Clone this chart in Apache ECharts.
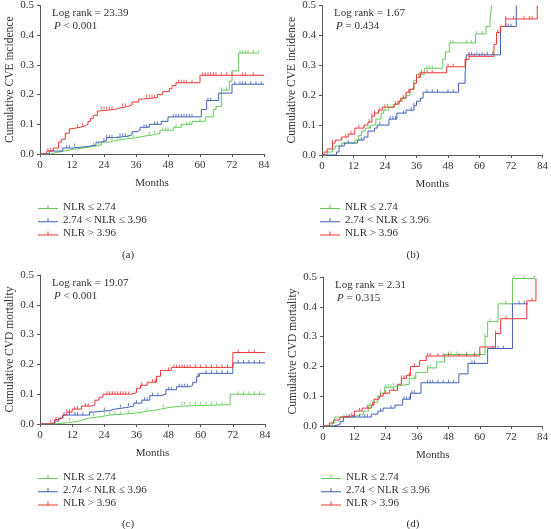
<!DOCTYPE html>
<html><head><meta charset="utf-8">
<script src="https://cdn.jsdelivr.net/npm/echarts@6/dist/echarts.min.js"></script>
<style>html,body{margin:0;padding:0;background:#fff}#c{width:551px;height:529px}</style>
</head><body><div id="c"></div>
<script>
// ---------- data ----------
const groupNames = ['NLR ≤ 2.74', '2.74 < NLR ≤ 3.96', 'NLR > 3.96'];
const xTickStep = 12;
const monthsMax = 84;
const yMax = 0.5;

// Panel (a): cumulative CVE incidence
const aGreen = [[0,0],[4,0.005],[6,0.01],[9,0.015],[12,0.02],[16,0.025],[20,0.03],[23,0.04],[26,0.045],[28,0.05],[32,0.055],[36,0.06],[39,0.065],[43,0.07],[45,0.08],[50,0.09],[53,0.1],[57,0.11],[62,0.125],[65,0.15],[66,0.16],[68,0.215],[71,0.245],[72,0.28],[74.5,0.34],[82,0.34]];
const aBlue = [[0,0],[3.5,0.01],[8.5,0.02],[12,0.025],[17.5,0.03],[21,0.04],[23,0.045],[25,0.055],[28,0.06],[33,0.065],[34.5,0.075],[36.5,0.08],[37.5,0.09],[41,0.1],[45.5,0.11],[48,0.125],[60.5,0.15],[62.5,0.18],[67,0.205],[72,0.235],[84,0.235]];
const aRed = [[0,0],[2.5,0.01],[5,0.02],[7,0.04],[8,0.05],[9.5,0.07],[11,0.085],[12,0.09],[15,0.095],[17,0.1],[18,0.11],[19,0.12],[20,0.13],[21.5,0.145],[22.5,0.15],[28,0.155],[30,0.16],[33,0.165],[34.5,0.175],[37,0.185],[38.5,0.19],[44,0.2],[46,0.21],[48.5,0.22],[49.5,0.23],[51,0.24],[60,0.265],[84,0.265]];
const aGreenCens = [20,22,27,29,30,33,35,41,43,46,47,48,51,55,56,60,68,70,75,76,77,78,80,82];
const aBlueCens = [10,11,13,24,25,26,27,30,31,32,39,40,43,44,50,51,52,53,54,55,56,57,63,64,73,75,76,77,79,81,83];
const aRedCens = [3,4,14,16,23,24,25,26,27,31,32,40,41,42,43,52,53,54,55,57,61,62,63,64,65,66,68,70,72,76,77,80];

// Panel (b): cumulative CVE incidence
const bGreen = [[0,0],[2,0.01],[4,0.02],[5,0.03],[7.5,0.04],[12.5,0.05],[14,0.065],[15,0.08],[16.5,0.09],[18.5,0.1],[20.5,0.12],[22.5,0.14],[23.5,0.15],[25.5,0.16],[27.5,0.17],[29.5,0.18],[30.5,0.19],[32,0.2],[33.5,0.22],[35,0.25],[36,0.27],[39,0.29],[46,0.32],[47,0.345],[48.5,0.375],[58.5,0.405],[62.5,0.43],[64,0.45],[64.6,0.5]];
const bBlue = [[0,0],[5.5,0.01],[6.5,0.03],[8.5,0.04],[13.5,0.05],[16,0.06],[17.5,0.08],[20,0.09],[21,0.1],[25.5,0.12],[28.5,0.14],[32,0.15],[35,0.165],[36,0.18],[37.5,0.19],[38.5,0.21],[52,0.24],[54.5,0.27],[55,0.335],[68,0.43],[74,0.5]];
const bRed = [[0,0],[0.8,0.01],[2,0.02],[4,0.04],[5,0.05],[7.5,0.06],[10,0.07],[12.5,0.09],[16,0.1],[17.5,0.11],[19,0.13],[20,0.14],[21.5,0.15],[23,0.16],[27.5,0.17],[29,0.18],[30,0.19],[32,0.21],[33.5,0.22],[35,0.24],[36,0.26],[37.5,0.275],[47.5,0.295],[54.5,0.32],[56,0.33],[65.5,0.37],[66.5,0.41],[68,0.43],[70,0.455],[82,0.5]];
const bGreenCens = [18,24,27,29,30,31,37,38,40,41,42,49,50,55,57,59,61];
const bBlueCens = [10,15,22,26,27,28,31,34,35,40,42,44,48,50,56,57,59,61,63,65,70,71,72];
const bRedCens = [4,9,11,14,18,19,20,22,24,25,28,31,33,36,37,38,40,42,48,50,56,58,60,62,67,70,73,77,79,80];

// Panel (c): cumulative CVD mortality
const cGreen = [[0,0],[5,0.005],[11,0.01],[15,0.015],[16,0.02],[18.5,0.025],[23,0.03],[26,0.033],[31,0.036],[35,0.04],[38,0.045],[42,0.05],[45,0.056],[48.5,0.06],[53,0.065],[71,0.1],[84,0.1]];
const cBlue = [[0,0],[5.5,0.01],[7,0.02],[8.5,0.03],[18.5,0.04],[20,0.045],[26,0.05],[28,0.055],[32,0.06],[35,0.07],[38,0.08],[41,0.095],[45,0.1],[47,0.115],[51,0.125],[56,0.13],[57,0.14],[58.5,0.16],[59.5,0.17],[72,0.205],[84,0.205]];
const cRed = [[0,0],[3.5,0.005],[5.5,0.015],[7,0.02],[8.5,0.03],[10,0.04],[12,0.05],[15.5,0.06],[19,0.065],[20.5,0.08],[22,0.09],[23.5,0.1],[34,0.105],[36,0.12],[37.5,0.13],[40,0.14],[43.5,0.16],[45,0.18],[49,0.19],[72,0.24],[84,0.24]];
const cGreenCens = [11,20,24,26,28,30,33,40,46,53,54,56,58,60,62,64,66,68,74,76,78,80,82];
const cBlueCens = [9,11,13,14,16,24,30,33,36,39,40,42,44,48,49,52,53,54,55,59,62,64,66,68,70,74,76,78,80,82];
const cRedCens = [4,6,10,11,13,14,17,18,25,26,27,28,29,30,31,32,33,38,42,43,48,50,51,52,53,54,55,56,58,60,62,64,66,68,70,74,78,80];

// Panel (d): cumulative CVD mortality
const dGreen = [[0,0],[3.5,0.01],[4.5,0.03],[11,0.035],[13.5,0.04],[15.5,0.05],[17.5,0.07],[19,0.08],[21,0.1],[22,0.11],[23.5,0.13],[27,0.135],[29,0.14],[33,0.16],[35.5,0.18],[40,0.195],[43.5,0.215],[46.5,0.24],[62,0.3],[63,0.35],[67,0.41],[72.5,0.495],[81,0.495]];
const dBlue = [[0,0],[4,0.005],[6.5,0.015],[7.8,0.03],[18.5,0.04],[21,0.05],[23,0.06],[27.5,0.07],[30.5,0.09],[33.5,0.11],[37.5,0.145],[52,0.175],[55.5,0.21],[63,0.26],[72.5,0.41],[78.5,0.41]];
const dRed = [[0,0],[2.5,0.01],[4,0.02],[6.5,0.03],[8,0.035],[12,0.05],[15,0.06],[18.5,0.07],[19.5,0.09],[21.5,0.1],[23,0.11],[25.5,0.12],[28.5,0.14],[30,0.16],[32,0.17],[33.5,0.2],[37,0.22],[39.5,0.235],[60,0.265],[66,0.31],[68,0.36],[78,0.42],[81.5,0.495]];
const dGreenCens = [4,8,9,18,22,24,25,26,27,33,35,40,41,48,49,51,55,58,60,62,64,70,73,77,81];
const dBlueCens = [10,12,14,16,17,22,26,31,32,33,34,35,40,41,42,44,46,48,50,57,58,65,66,67,69,75,77];
const dRedCens = [11,14,17,19,22,24,27,30,31,33,35,40,41,44,46,48,52,55,58,66,70,80];

const panelLabels = ['(a)', '(b)', '(c)', '(d)'];
const yTitles = ['Cumulative CVE incidence', 'Cumulative CVE incidence', 'Cumulative CVD mortality', 'Cumulative CVD mortality'];
const logRanks = ['Log rank = 23.39', 'Log rank = 1.67', 'Log rank = 19.07', 'Log rank = 2.31'];
const pTexts = ['< 0.001', '= 0.434', '< 0.001', '= 0.315'];

// ---------- layout / style ----------
const FONT = '"Liberation Serif", "DejaVu Serif", serif';
const colors = ['#66c95c', '#4060b6', '#ee3434'];
const grids = [
  {left: 40, top: 5, width: 224, height: 149},
  {left: 322, top: 5, width: 224, height: 150},
  {left: 40, top: 275, width: 225, height: 149},
  {left: 323, top: 277, width: 222, height: 149}
];
const panels = [
  {curves: [aGreen, aBlue, aRed], cens: [aGreenCens, aBlueCens, aRedCens]},
  {curves: [bGreen, bBlue, bRed], cens: [bGreenCens, bBlueCens, bRedCens]},
  {curves: [cGreen, cBlue, cRed], cens: [cGreenCens, cBlueCens, cRedCens]},
  {curves: [dGreen, dBlue, dRed], cens: [dGreenCens, dBlueCens, dRedCens]}
];

function valueAt(curve, t) {
  let v = 0;
  for (const [x, y] of curve) { if (x <= t) v = y; }
  return v;
}

const xAxes = [], yAxes = [], series = [], legends = [], graphics = [];
panels.forEach((p, i) => {
  const g = grids[i];
  xAxes.push({
    type: 'value', gridIndex: i, min: 0, max: monthsMax, interval: xTickStep,
    name: 'Months', nameLocation: 'middle', nameGap: 24,
    nameTextStyle: {fontFamily: FONT, fontSize: 11, color: '#333'},
    axisLine: {lineStyle: {color: '#555', width: 1}},
    axisTick: {length: 3, lineStyle: {color: '#555'}},
    axisLabel: {fontFamily: FONT, fontSize: 11, color: '#333', margin: 6},
    splitLine: {show: false}
  });
  yAxes.push({
    type: 'value', gridIndex: i, min: 0, max: yMax, interval: 0.1,
    name: yTitles[i], nameLocation: 'middle', nameGap: 20,
    nameTextStyle: {fontFamily: FONT, fontSize: 11.5, color: '#333'},
    axisLine: {show: true, lineStyle: {color: '#555', width: 1}},
    axisTick: {show: true, length: 3, lineStyle: {color: '#555'}},
    axisLabel: {fontFamily: FONT, fontSize: 11, color: '#333', margin: 6, formatter: v => v.toFixed(1)},
    splitLine: {show: false}
  });
  p.curves.forEach((curve, k) => {
    series.push({
      type: 'line', name: groupNames[k], xAxisIndex: i, yAxisIndex: i,
      step: 'end', data: curve, showSymbol: false, symbol: 'none',
      lineStyle: {color: colors[k], width: 1}, itemStyle: {color: colors[k]},
      animation: false, silent: true, z: 2 + k
    });
    series.push({
      type: 'scatter', name: groupNames[k], xAxisIndex: i, yAxisIndex: i,
      data: p.cens[k].map(t => [t, valueAt(curve, t)]),
      symbol: 'rect', symbolSize: [1, 3], symbolOffset: [0, -1.5],
      itemStyle: {color: colors[k]}, animation: false, silent: true, z: 2 + k
    });
  });
  const legTop = i < 2 ? 200.5 : 470.5;
  legends.push({
    orient: 'vertical', left: g.left - 2, top: legTop, padding: 0,
    itemWidth: 20, itemHeight: 4, itemGap: 0.3,
    icon: 'path://M0,3h20v1h-20zM9.5,0h1v3h-1z',
    data: groupNames,
    textStyle: {fontFamily: FONT, fontSize: 11, color: '#333', lineHeight: 13}
  });
  graphics.push({
    type: 'text', left: g.left + 12, top: g.top + 3,
    style: {text: logRanks[i], fontFamily: FONT, fontSize: 11, fill: '#333'}
  });
  graphics.push({
    type: 'text', left: g.left + 14, top: g.top + 16,
    style: {
      text: '{i|P} ' + pTexts[i],
      fontFamily: FONT, fontSize: 11, fill: '#333',
      rich: {i: {fontStyle: 'italic', fontFamily: FONT, fontSize: 11, fill: '#333'}}
    }
  });
  graphics.push({
    type: 'text', x: (i % 2 === 0 ? 128 : 413), y: (i < 2 ? 255 : 524),
    style: {text: panelLabels[i], fontFamily: FONT, fontSize: 11, fill: '#333', align: 'center', verticalAlign: 'middle'}
  });
});

const chart = echarts.init(document.getElementById('c'), null, {renderer: 'canvas'});
chart.setOption({
  animation: false,
  backgroundColor: '#fff',
  grid: grids.map(g => Object.assign({containLabel: false}, g)),
  xAxis: xAxes,
  yAxis: yAxes,
  legend: legends,
  series: series,
  graphic: graphics
});
</script></body></html>
